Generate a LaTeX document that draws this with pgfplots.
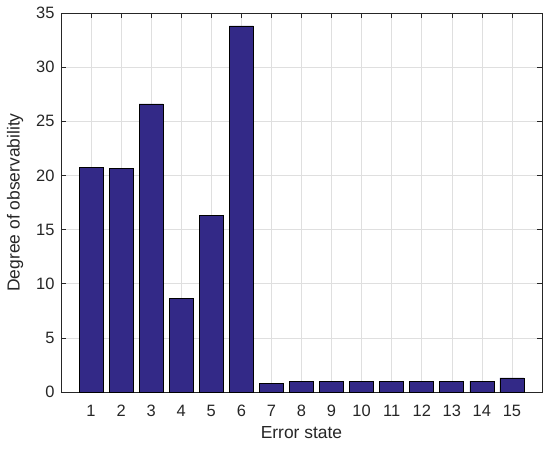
\documentclass[border=0pt]{standalone}
\usepackage{fontspec}
\setmainfont{Liberation Sans}
\usepackage{pgfplots}
\pgfplotsset{compat=1.18}
\definecolor{barblue}{RGB}{51,41,135}
\definecolor{axgray}{RGB}{38,38,38}
\definecolor{gridgray}{RGB}{223,223,223}

\begin{document}
\begin{tikzpicture}
\useasboundingbox (-61bp,-57bp) rectangle (489bp,392bp);
\begin{axis}[
    at={(0,0)}, anchor=south west,
    scale only axis,
    width=481bp, height=379bp,
    xmin=0, xmax=16,
    ymin=0, ymax=35,
    xtick={1,...,15},
    ytick={0,5,...,35},
    grid=major,
    major grid style={gridgray, line width=0.6bp},
    axis line style={axgray, line width=0.6bp},
    tick style={axgray, line width=0.6bp},
    tick align=inside,
    major tick length=5bp,
    xtick pos=both, ytick pos=both,
    ticklabel style={font=\fontsize{16.5}{19}\selectfont, text=axgray},
    /pgf/number format/assume math mode=true,
    xlabel={Error state},
    ylabel={Degree of observability},
    label style={font=\fontsize{17.5}{20}\selectfont, text=axgray},
    xlabel shift=3bp,
    ylabel shift=6bp,
    xticklabel style={yshift=-10bp},
    yticklabel style={xshift=-3bp},
]
\addplot[ybar, bar width=0.8, bar shift=0, fill=barblue, draw=black, line width=0.7bp]
coordinates {
    (1,20.75) (2,20.65) (3,26.6) (4,8.68) (5,16.28) (6,33.8) (7,0.77)
    (8,0.95) (9,1.0) (10,1.0) (11,1.0) (12,1.0) (13,1.0) (14,1.0) (15,1.3)
};
\end{axis}
\end{tikzpicture}
\end{document}
